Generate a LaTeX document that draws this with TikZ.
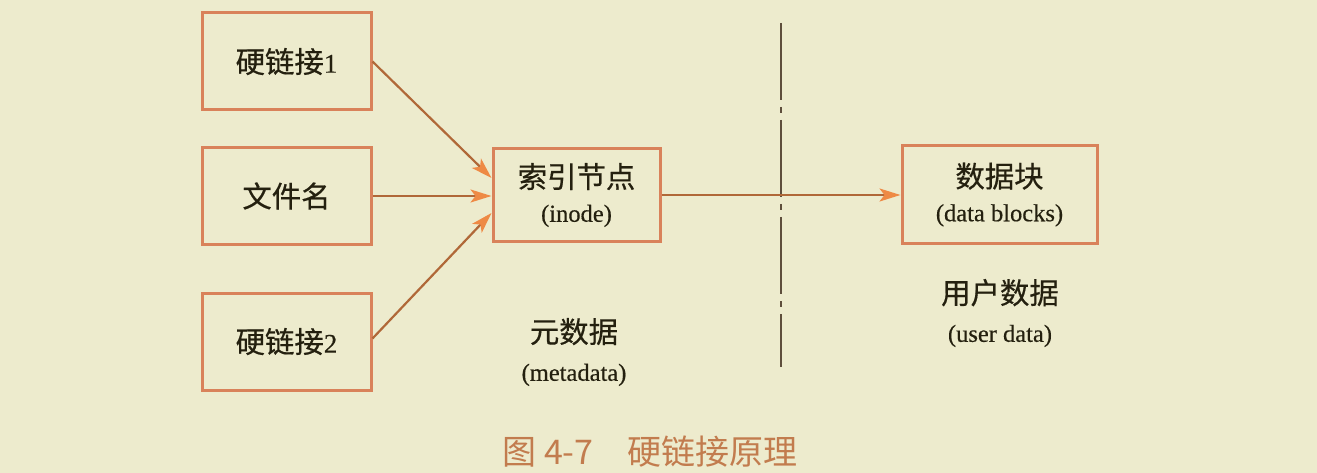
\documentclass[tikz,border=0pt]{standalone}
\usepackage{fontspec}
\setmainfont[FakeBold=0.4]{Liberation Serif}
\newfontfamily\cjk[Scale=1.2,FakeBold=0.5]{Noto Sans CJK SC}
\newfontfamily\capfont{Noto Sans CJK SC}
\newcommand{\dg}[1]{{\fontsize{27}{34}\selectfont #1}}
\usetikzlibrary{arrows.meta}
\definecolor{bg}{HTML}{EDEBCD}
\definecolor{boxline}{HTML}{D9825A}
\definecolor{linebrown}{HTML}{B06838}
\definecolor{tipor}{HTML}{EE8A45}
\definecolor{txt}{HTML}{24200F}
\definecolor{sepline}{HTML}{5E4E3C}
\definecolor{capcol}{HTML}{C27C4E}
\tikzset{
  box/.style={draw=boxline, line width=3pt, inner sep=0pt, text=txt, align=center,
    font=\fontsize{24.5}{34}\selectfont},
  lbl/.style={inner sep=0pt, text=txt, align=center, font=\fontsize{24.5}{38}\selectfont},
  conn/.style={draw=linebrown, line width=2.2pt,
    -{Stealth[length=21pt,width=13pt,inset=5pt,color=tipor,fill=tipor]}},
  sep/.style={draw=sepline, line width=2.2pt, dash pattern=on 77pt off 7pt on 6pt off 7pt}
}
\begin{document}
\begin{tikzpicture}[x=1pt,y=-1pt]
\fill[bg] (0,0) rectangle (1317,473);
\useasboundingbox (0,0) rectangle (1317,473);
\node[box, minimum width=169pt, minimum height=97pt] (h1) at (286.5,61.5) {{\cjk 硬链接}\dg{1}};
\node[box, minimum width=169pt, minimum height=96pt] (fn) at (286.5,196) {{\cjk 文件名}};
\node[box, minimum width=169pt, minimum height=97pt] (h2) at (286.5,341.5) {{\cjk 硬链接}\dg{2}};
\node[box, minimum width=167pt, minimum height=93pt] (inode) at (576.5,195) {{\cjk 索引节点}\\(inode)};
\node[box, minimum width=195pt, minimum height=97pt] (data) at (999.5,194.5) {{\cjk 数据块}\\(data blocks)};
\node[lbl] (meta) at (574,352) {{\cjk 元数据}\\(metadata)};
\node[lbl] (user) at (1000,313) {{\cjk 用户数据}\\(user data)};
\coordinate (s1) at (781,23);
\coordinate (s2) at (781,367);
\draw[sep] (s1) -- (s2);
\draw[conn] (h1.east) -- ([yshift=17pt]inode.west);
\draw[conn] (fn.east) -- (fn.east -| inode.west);
\draw[conn] ([yshift=3pt]h2.east) -- ([yshift=-18pt]inode.west);
\draw[conn] (inode.east) -- (inode.east -| data.west);
\node[inner sep=0pt, text=capcol, font=\capfont\fontsize{34}{38}\selectfont] (cap) at (650,452) {图 4-7\hspace{1em}硬链接原理};
\end{tikzpicture}
\end{document}
